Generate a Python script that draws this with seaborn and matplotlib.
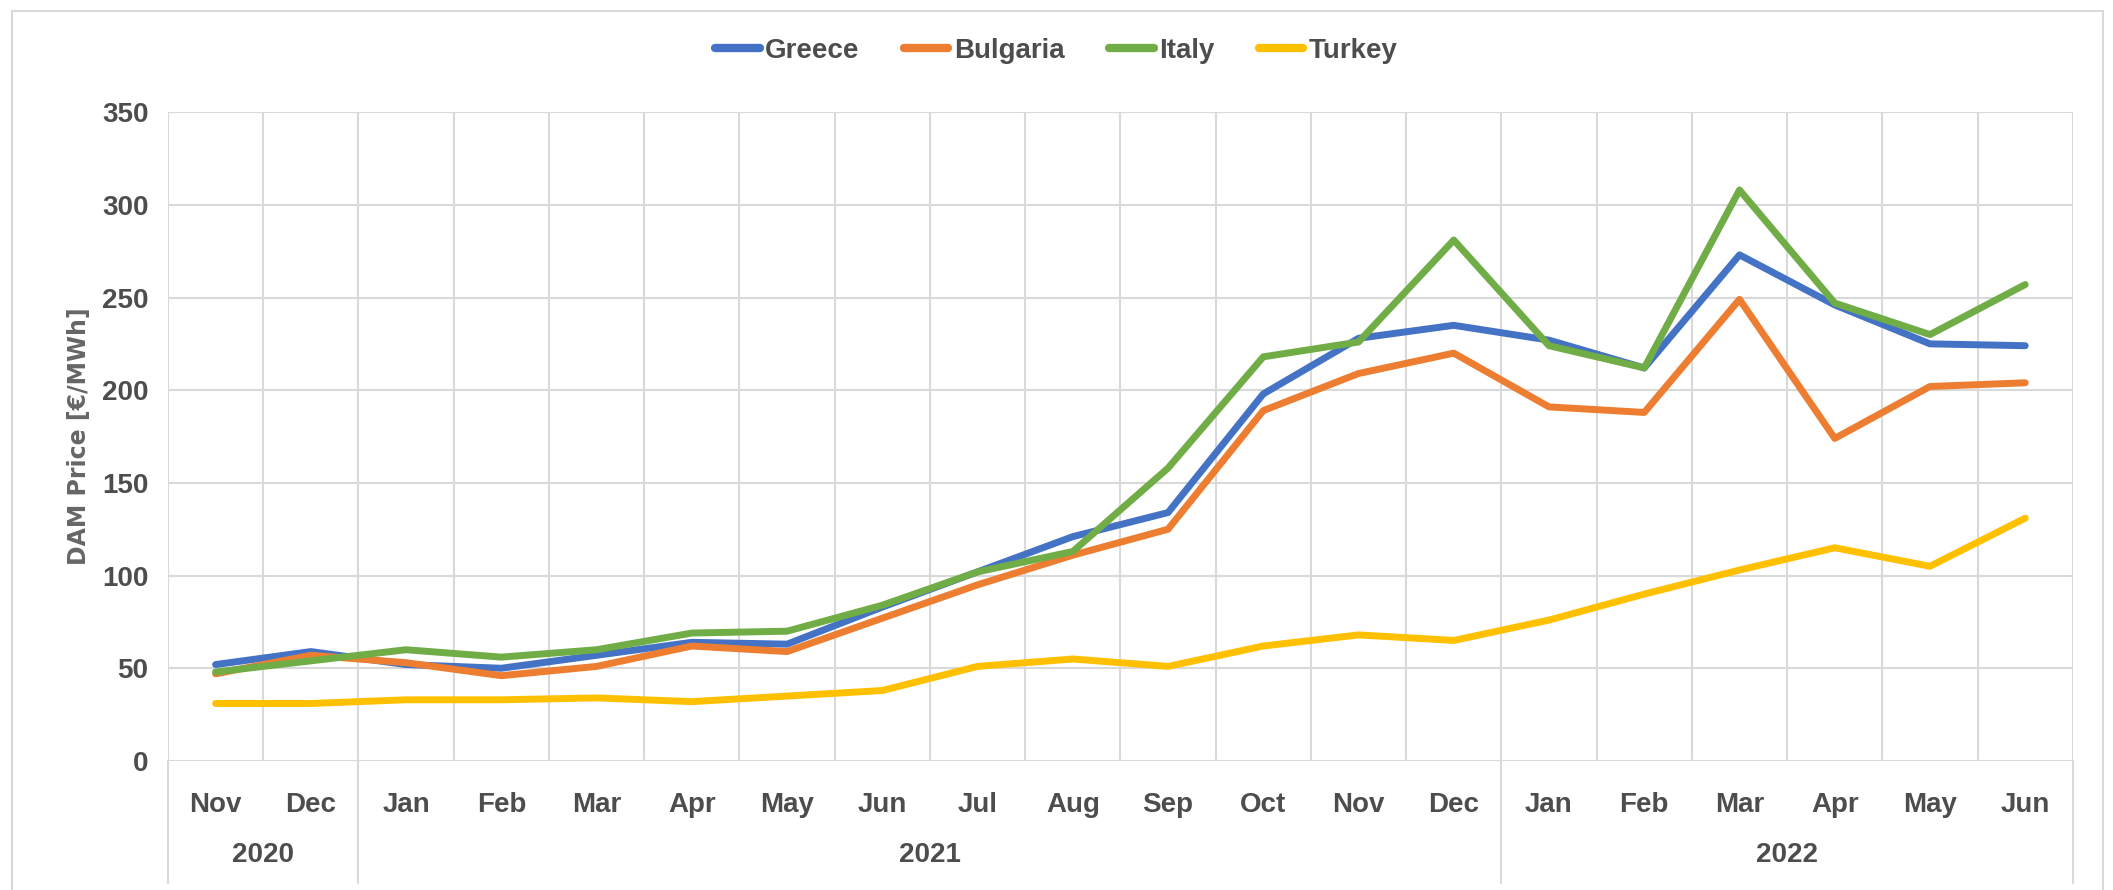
import numpy as np
import pandas as pd
import seaborn as sns
import matplotlib.pyplot as plt
from matplotlib.patches import Rectangle
import matplotlib.transforms as mtransforms

months = ['Nov', 'Dec', 'Jan', 'Feb', 'Mar', 'Apr', 'May', 'Jun', 'Jul', 'Aug',
          'Sep', 'Oct', 'Nov', 'Dec', 'Jan', 'Feb', 'Mar', 'Apr', 'May', 'Jun']
years = ['2020', '2021', '2022']
year_spans = [(0, 1), (2, 13), (14, 19)]

greece = [52, 59, 52, 50, 57, 64, 63, 83, 102, 121, 134, 198, 228, 235, 227, 212, 273, 246, 225, 224]
bulgaria = [47, 57, 53, 46, 51, 62, 59, 77, 95, 111, 125, 189, 209, 220, 191, 188, 249, 174, 202, 204]
italy = [48, 54, 60, 56, 60, 69, 70, 84, 102, 113, 158, 218, 226, 281, 224, 212, 308, 247, 230, 257]
turkey = [31, 31, 33, 33, 34, 32, 35, 38, 51, 55, 51, 62, 68, 65, 76, 90, 103, 115, 105, 131]

countries = ['Greece', 'Bulgaria', 'Italy', 'Turkey']
colors = ['#4472C4', '#ED7D31', '#70AD47', '#FFC000']

df = pd.DataFrame({'Greece': greece, 'Bulgaria': bulgaria, 'Italy': italy, 'Turkey': turkey})
df['idx'] = np.arange(len(months))
long = df.melt(id_vars='idx', var_name='country', value_name='price')

sns.set_style('white')
plt.rcParams['font.family'] = ['Liberation Sans', 'DejaVu Sans']
txt = '#4D4D4D'
grid = '#D9D9D9'

fig = plt.figure(figsize=(21.13, 8.9), dpi=100)
ax = fig.add_axes([0.0795, 0.145, 0.9015, 0.729])

sns.lineplot(data=long, x='idx', y='price', hue='country', hue_order=countries,
             palette=colors, linewidth=5, ax=ax, sort=False)

n = len(months)
ax.set_xlim(-0.5, n - 0.5)
ax.set_ylim(0, 350)
ax.set_yticks(range(0, 351, 50))
ax.set_xticks(range(n))
ax.set_xticklabels(months)
ax.set_xticks(np.arange(-0.5, n, 1), minor=True)
ax.grid(False)
ax.grid(True, which='minor', axis='x', color=grid, linewidth=1.5)
ax.grid(True, which='major', axis='y', color=grid, linewidth=1.5)
ax.set_axisbelow(True)
for s in ax.spines.values():
    s.set_visible(False)
ax.tick_params(axis='both', which='both', length=0, labelsize=20, colors=txt, pad=22)
ax.tick_params(axis='y', pad=14)
for t in ax.get_xticklabels() + ax.get_yticklabels():
    t.set_fontweight('bold')
ax.set_xlabel('')
ax.set_ylabel('DAM Price [€/MWh]', fontsize=17, color='#666666', fontweight='bold',
              family=['DejaVu Sans'], labelpad=8)

# year level of the category axis
tr = mtransforms.blended_transform_factory(ax.transData, ax.transAxes)
for b in [-0.5, 1.5, 13.5, 19.5]:
    ax.plot([b, b], [0, -0.188], transform=tr, color=grid, linewidth=1.5, clip_on=False)
for yr, (a, b) in zip(years, year_spans):
    ax.text((a + b) / 2, -0.145, yr, transform=tr, ha='center', va='center',
            fontsize=20, color=txt, fontweight='bold')

leg = ax.legend(loc='center', bbox_to_anchor=(0.5, 0.943), bbox_transform=fig.transFigure,
                ncol=4, frameon=False, fontsize=20, handlelength=1.6, handletextpad=0.2,
                columnspacing=1.6)
for t in leg.get_texts():
    t.set_color(txt)
    t.set_fontweight('bold')
for h in leg.get_lines():
    h.set_linewidth(6)

fig.patches.append(Rectangle((12 / 2113, -0.05), (2103 - 12) / 2113, 1.05 - 11 / 890,
                             transform=fig.transFigure, fill=False, edgecolor=grid,
                             linewidth=1.5))

fig.savefig('out.png', dpi=100)
